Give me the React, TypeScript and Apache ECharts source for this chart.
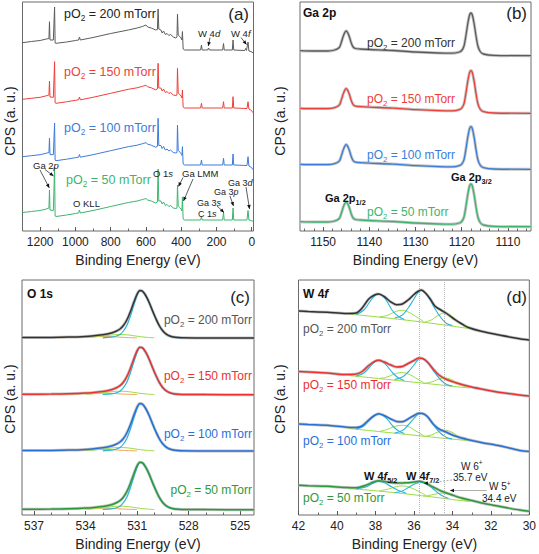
import React, { useEffect, useRef } from "react";
import * as echarts from "echarts";

const FONT = '"Liberation Sans", Arial, Helvetica, sans-serif';

const pressures = ["200", "150", "100", "50"];

// ---------- Panel (a): survey ----------
const surveyTicks = [0, 200, 400, 600, 800, 1000, 1200];
const surveyMinorTicks = [100, 300, 500, 700, 900, 1100];
const survey200 = [
  [1300, 188.3], [1250, 189.5], [1200, 190.5], [1165, 192], [1150, 192.5], [1147, 209.3], [1144, 191], [1125, 191], [1121, 191],
  [1118, 224], [1115, 188], [1110, 187.7], [1050, 189], [1000, 190.5], [982, 191], [977, 194], [972, 191], [900, 193.5],
  [800, 197.5], [700, 201], [650, 203], [620, 204.5], [600, 206], [590, 204], [570, 203], [545, 201], [535, 201.5], [531, 222],
  [527, 202], [515, 201], [508, 198], [500, 200], [490, 196.5], [480, 197.5], [470, 195.5], [460, 196.5], [445, 194], [430, 193],
  [424, 194], [421, 217], [417, 196], [405, 194], [398, 192], [396, 191], [393, 199.5], [389, 182], [380, 181], [290, 181],
  [285, 186], [281, 181], [250, 181], [245, 183], [240, 181], [165, 181], [160, 187.5], [156, 181], [110, 181], [106, 191],
  [102, 181], [40, 180.5], [35, 182.5], [30, 180.5], [27, 180.5], [21, 189], [16, 180], [5, 179.5], [-10, 178],
];
const survey150 = [
  [1300, 131.7], [1250, 132.7], [1200, 133.7], [1165, 135.2], [1150, 136], [1147, 150], [1144, 134], [1125, 133.7], [1121, 133.7],
  [1118, 169.3], [1115, 128.2], [1110, 127.7], [1050, 129.2], [1000, 130.7], [982, 131.2], [977, 134], [972, 131.2], [900, 133.7],
  [800, 137.7], [700, 141.7], [650, 143.2], [620, 144.7], [600, 145.7], [590, 144.2], [570, 143.2], [545, 141.2], [535, 142],
  [531, 167.7], [527, 143], [515, 143], [508, 140], [500, 142], [490, 138.5], [480, 139.5], [470, 137.5], [460, 138.5], [445, 136],
  [430, 135.5], [424, 136], [421, 162.7], [417, 138], [405, 136], [398, 134], [396, 133], [393, 141], [389, 124], [380, 123],
  [290, 123], [285, 127.7], [281, 123], [165, 123], [160, 129.3], [156, 123], [110, 123], [106, 134.3], [102, 123], [27, 122.5],
  [21, 129.3], [16, 122], [5, 121], [-10, 118],
];
const survey100 = [
  [1300, 74.3], [1250, 75.3], [1200, 76.3], [1165, 77.8], [1150, 78.5], [1147, 92.7], [1144, 76.5], [1125, 76.3], [1121, 76.3],
  [1118, 108], [1115, 70.8], [1110, 70.3], [1050, 71.8], [1000, 73.3], [982, 73.8], [977, 76.5], [972, 73.8], [900, 76.3],
  [800, 80.3], [700, 84.3], [650, 85.8], [620, 87.3], [600, 88.3], [590, 86.8], [570, 85.8], [545, 83.8], [535, 84.6], [531, 112.7],
  [527, 85.5], [515, 85.5], [508, 82.5], [500, 84.5], [490, 81], [480, 82], [470, 80], [460, 81], [445, 78.5], [430, 78],
  [424, 78.5], [421, 106], [417, 80.5], [405, 78.5], [398, 76.5], [396, 75.5], [393, 84.3], [389, 67], [380, 66], [290, 66],
  [285, 71], [281, 66], [165, 66], [160, 72.7], [156, 66], [110, 66], [106, 77], [102, 66], [27, 65.5], [21, 74.3], [16, 65],
  [5, 64], [-10, 61],
];
const survey50 = [
  [1300, 18.5], [1250, 19.5], [1200, 20.5], [1165, 22], [1150, 23], [1147, 41], [1144, 21], [1125, 20.5], [1121, 20.5],
  [1118, 64], [1115, 15], [1110, 14.5], [1050, 16], [1000, 17.5], [982, 18], [977, 21], [972, 18], [900, 20.5], [800, 24.5],
  [700, 28.5], [650, 30], [620, 31.5], [600, 32.5], [590, 31], [570, 30], [545, 28], [535, 29], [531, 62], [527, 30], [515, 30],
  [508, 27], [500, 29], [490, 25.5], [480, 26.5], [470, 24.5], [460, 25.5], [445, 23], [430, 22.5], [424, 23], [421, 46],
  [417, 25], [405, 23], [398, 21], [396, 20], [393, 34], [389, 12], [380, 11], [290, 11], [285, 14.5], [281, 11], [165, 11],
  [160, 19], [156, 11], [110, 11], [106, 23], [102, 11], [27, 11], [21, 20.5], [16, 11], [5, 10.5], [-10, 9.5],
];

// ---------- Panel (b): Ga 2p ----------
const ga2pTicks = [1110, 1120, 1130, 1140, 1150];
const ga2pMinorTicks = [1106, 1108, 1112, 1114, 1116, 1118, 1122, 1124, 1126, 1128, 1132, 1134, 1136, 1138, 1142, 1144, 1146, 1148, 1152, 1154];
const ga2pProfile = [
  [1155, 9.3], [1152, 9], [1149, 9], [1147.5, 10], [1146.5, 12.5], [1146.1, 17], [1145.7, 23], [1145.3, 27.5], [1145.0, 29],
  [1144.7, 27.5], [1144.3, 23], [1143.9, 17], [1143.5, 13], [1143, 11.5], [1142, 11], [1140, 10.5], [1135, 9.5], [1130, 8],
  [1125, 7], [1122, 6.8], [1120.5, 8], [1120, 9.5], [1119.5, 14], [1119.1, 24], [1118.7, 36], [1118.3, 45], [1118.0, 47],
  [1117.7, 45], [1117.3, 36], [1116.9, 24], [1116.5, 14], [1116, 8.5], [1115.3, 6], [1113, 4.6], [1105, 4.3],
];
const ga2pOffsets = [171, 113.4, 57.4, 0];

// ---------- Panel (c): O 1s ----------
const o1sTicks = [525, 528, 531, 534, 537];
const o1sMinorTicks = [526, 527, 529, 530, 532, 533, 535, 536];
const o1sEnvelope = [
  [537.7, 0.5], [536, 0.6], [535, 0.9], [534, 1.6], [533.5, 2.3], [533, 3.2], [532.5, 5], [532.2, 7], [532, 9], [531.8, 12.5],
  [531.6, 18], [531.4, 26], [531.2, 35.5], [531.0, 44], [530.85, 47.5], [530.7, 47], [530.5, 42.5], [530.3, 35.5], [530.1, 27],
  [529.9, 19], [529.7, 12], [529.5, 7], [529.3, 3.8], [529.1, 2], [528.8, 0.8], [528.4, 0.3], [527, 0.1], [524.2, 0],
];
const o1sLattice = [
  [533, 0.2], [532.5, 0.8], [532.2, 2], [532, 3.5], [531.8, 7], [531.6, 12.5], [531.4, 21.5], [531.2, 32.5], [531.0, 42.5],
  [530.85, 47], [530.7, 46.8], [530.5, 42.3], [530.3, 35.3], [530.1, 26.8], [529.9, 18.8], [529.7, 11.8], [529.5, 6.8],
  [529.3, 3.6], [529.1, 1.8], [528.8, 0.6], [528.4, 0.2],
];
const o1sVacancy = [
  [534, 0.3], [533.5, 1], [533, 2], [532.5, 3], [532, 3.5], [531.6, 3.2], [531.2, 2.3], [530.8, 1.3], [530.4, 0.6], [530, 0.2],
];
const o1sHydroxyl = [
  [535.5, 0.2], [534.5, 0.8], [533.5, 1.4], [533, 1.5], [532.5, 1.3], [532, 0.8], [531.5, 0.4], [531, 0.1],
];
const o1sOffsets = [177, 120.3, 64, 5.3];

// ---------- Panel (d): W 4f ----------
const w4fTicks = [30, 32, 34, 36, 38, 40, 42];
const w4fMinorTicks = [31, 33, 35, 37, 39, 41];
const w4fRefLines = [35.7, 34.4];

const w4fEnv200 = [
  [42, 204], [41.5, 203.5], [40.5, 202.7], [39.5, 201.5], [39.0, 202], [38.69, 207], [38.35, 216], [38.05, 220], [37.83, 221],
  [37.55, 218.5], [37.2, 213], [36.9, 210.3], [36.6, 211], [36.3, 215], [36.0, 220.5], [35.8, 223.5], [35.62, 225], [35.4, 222],
  [35.15, 216], [34.9, 208.7], [34.6, 205], [34.3, 201.5], [33.86, 195.3], [33.5, 191], [33.17, 187.5], [32.5, 183.7],
  [31.5, 179.7], [30.5, 176.3], [30, 175],
];
const w4fBg200 = [[39.4, 201], [38.6, 199.5], [37.6, 197.5], [36.6, 195.3], [35.6, 193], [34.6, 190.5], [33.8, 188.3], [33.1, 186.3]];
const w4fA200 = [[39.0, 200.5], [38.6, 205], [38.3, 213], [38.05, 219], [37.83, 221], [37.6, 219], [37.35, 212], [37.1, 204], [36.8, 198.5], [36.5, 195.5]];
const w4fB200 = [[37.0, 197], [36.6, 200], [36.3, 207], [36.0, 216], [35.8, 222], [35.62, 224.5], [35.4, 222], [35.15, 215], [34.9, 206], [34.6, 197.5], [34.3, 191.5], [34.0, 189.5]];
const w4fC200 = [[37.8, 198], [37.4, 199.5], [37.0, 203], [36.65, 204.7], [36.3, 203], [35.9, 198.5], [35.5, 193.5]];
const w4fD200 = [[35.5, 192.5], [35.1, 195], [34.75, 199.5], [34.4, 202], [34.05, 199.5], [33.7, 193], [33.3, 187.5]];

const w4fEnv150 = [
  [42, 143.5], [41.5, 143], [40.5, 142], [39.5, 140.5], [39.0, 141], [38.69, 143.5], [38.35, 149.5], [38.05, 153.5], [37.83, 154.7],
  [37.55, 153], [37.2, 150], [36.9, 148], [36.6, 148.5], [36.3, 151.5], [36.0, 154.5], [35.75, 157], [35.55, 156.5], [35.3, 153],
  [35.0, 146], [34.7, 140], [34.3, 135.5], [33.86, 132.5], [33.17, 128.7], [32.5, 126], [31.5, 122.5], [30.5, 120], [30, 119],
];
const w4fBg150 = [[39.4, 139.5], [38.6, 138], [37.6, 136], [36.6, 134], [35.6, 132], [34.6, 130], [33.8, 128.3], [33.1, 127]];
const w4fA150 = [[39.0, 139], [38.6, 142], [38.3, 148], [38.05, 153], [37.83, 154.5], [37.6, 153], [37.35, 148], [37.1, 142], [36.8, 137], [36.5, 134.5]];
const w4fB150 = [[37.0, 135.5], [36.6, 138], [36.3, 143], [36.0, 150], [35.8, 155], [35.62, 156.5], [35.4, 155], [35.15, 149], [34.9, 142], [34.6, 135], [34.3, 130.5], [34.0, 129]];
const w4fC150 = [[37.8, 136.5], [37.4, 138], [37.0, 141], [36.65, 142.5], [36.3, 141], [35.9, 137], [35.5, 132.5]];
const w4fD150 = [[35.5, 131.5], [35.1, 133], [34.75, 135.5], [34.4, 137], [34.05, 135.5], [33.7, 131.5], [33.3, 128]];

const w4fEnv100 = [
  [42, 91], [41.5, 90.5], [40.5, 89.7], [39.5, 87.8], [39.0, 87.5], [38.7, 89], [38.35, 95], [38.05, 99.5], [37.83, 101.3],
  [37.55, 99.5], [37.2, 96], [36.9, 93.5], [36.6, 93.2], [36.3, 96], [36.0, 99.5], [35.75, 101.8], [35.55, 101.5], [35.3, 98.5],
  [35.0, 91], [34.7, 86], [34.4, 83.5], [33.86, 79], [33.17, 75.3], [32.5, 72.5], [31.5, 69], [30.5, 64.5], [30, 63.5],
];
const w4fBg100 = [[39.4, 86.5], [38.6, 85], [37.6, 83], [36.6, 81], [35.6, 79], [34.6, 77], [33.8, 75.5], [33.1, 74.3]];
const w4fA100 = [[39.0, 86], [38.6, 89], [38.3, 95], [38.05, 99.5], [37.83, 101], [37.6, 99.5], [37.35, 95], [37.1, 89], [36.8, 84], [36.5, 81.5]];
const w4fB100 = [[37.0, 82], [36.6, 84.5], [36.3, 90], [36.0, 96.5], [35.8, 100.5], [35.62, 101.5], [35.4, 100], [35.15, 95], [34.9, 88], [34.6, 81.5], [34.3, 77.5], [34.0, 76]];
const w4fC100 = [[37.8, 83.5], [37.4, 85.5], [37.0, 88.5], [36.65, 89.7], [36.3, 88.5], [35.9, 84], [35.5, 79.5]];
const w4fD100 = [[35.5, 78.5], [35.1, 80], [34.75, 83], [34.4, 84.7], [34.05, 83], [33.7, 79], [33.3, 75]];

const w4fEnv50 = [
  [42, 29.7], [41.5, 29.3], [40.5, 28.7], [39.5, 27.5], [39.0, 27.3], [38.5, 29.7], [38.1, 33], [37.83, 34.3], [37.5, 33.5],
  [37.2, 32.5], [36.8, 32], [36.4, 32.2], [36.0, 33], [35.7, 33.7], [35.4, 32], [35.0, 28], [34.55, 23.7], [34.0, 20],
  [33.52, 17], [33.0, 14.5], [32.48, 12], [31.8, 9.5], [31.1, 7], [30.5, 5], [30, 3.7],
];
const w4fBg50 = [[39.4, 26.5], [38.6, 25.3], [37.6, 23.5], [36.6, 21.5], [35.6, 19.3], [34.6, 17], [33.8, 15], [33.1, 13.5]];
const w4fA50 = [[39.0, 26], [38.5, 28], [38.2, 31], [37.83, 33.5], [37.5, 32], [37.2, 28.5], [36.8, 24.5], [36.4, 21.8]];
const w4fB50 = [[37.0, 22.5], [36.6, 24], [36.2, 28.5], [35.9, 31.5], [35.62, 32.5], [35.35, 31], [35.0, 26], [34.6, 20], [34.2, 16.5]];
const w4fC50 = [[37.8, 24.3], [37.3, 26], [36.9, 28.5], [36.6, 29], [36.2, 27.5], [35.8, 24], [35.4, 20]];
const w4fD50 = [[35.5, 19], [35.1, 20], [34.75, 21.5], [34.4, 22], [34.0, 20], [33.6, 16.5], [33.2, 14]];

// ---------- styling ----------
const curveColorsAB = ["#5c5c5c", "#ee4039", "#3b7dd8", "#3db56f"];
const curveColorsCD = ["#333333", "#ee3030", "#2a6fd8", "#2b9a3a"];
const labelColorsA = ["#222222", "#ee4039", "#3b7dd8", "#3db56f"];
const labelColorsB = ["#333333", "#ee4039", "#3b7dd8", "#3db56f"];
const labelColorsCD = ["#555555", "#ee3030", "#2a6fd8", "#2b9a3a"];
const DATA_GREY = "#c4c4c4";
const CYAN = "#2bb4d8";
const LIME = "#9bdc45";
const ORANGE = "#f2a35a";

const rects = [
  { left: 22.5, top: 2, width: 231, height: 229 },
  { left: 300, top: 2, width: 231, height: 229 },
  { left: 22, top: 280, width: 232, height: 235 },
  { left: 298.5, top: 280, width: 232, height: 235 },
];
const xRanges = [[-10, 1300], [1105, 1155], [524.2, 537.7], [30, 42]];
const yMax = [229, 229, 235, 235];
const majorTicks = [surveyTicks, ga2pTicks, o1sTicks, w4fTicks];
const minorTicks = [surveyMinorTicks, ga2pMinorTicks, o1sMinorTicks, w4fMinorTicks];

function shift(arr: number[][], off: number) {
  return arr.map(([x, y]) => [x, y + off]);
}

function line(panel: number, data: number[][], color: string, width: number, z: number, smooth: number | boolean = false): any {
  return {
    type: "line",
    xAxisIndex: panel,
    yAxisIndex: panel,
    data,
    symbol: "none",
    showSymbol: false,
    smooth,
    silent: true,
    z,
    lineStyle: { color, width },
    emphasis: { disabled: true },
  };
}

function richStyles(size: number, color: string, bold: boolean) {
  const w = bold ? "bold" : "normal";
  const sub = Math.round(size * 0.66 * 10) / 10;
  return {
    n: { fontSize: size, fontFamily: FONT, fill: color, fontWeight: w, lineHeight: size + 4 },
    i: { fontSize: size, fontFamily: FONT, fill: color, fontWeight: w, fontStyle: "italic", lineHeight: size + 4 },
    s: { fontSize: sub, fontFamily: FONT, fill: color, fontWeight: w, verticalAlign: "bottom", lineHeight: sub },
    u: { fontSize: sub, fontFamily: FONT, fill: color, fontWeight: w, verticalAlign: "top", lineHeight: sub },
  };
}

export default function App() {
  const ref = useRef<HTMLDivElement>(null);

  useEffect(() => {
    document.body.style.margin = "0";
    if (!ref.current) return;
    const chart = echarts.init(ref.current, undefined, { renderer: "svg" });

    const grids: any[] = [];
    const xAxes: any[] = [];
    const yAxes: any[] = [];
    for (let p = 0; p < 4; p++) {
      grids.push({ ...rects[p], show: true, borderColor: "#6a6a6a", borderWidth: 1, backgroundColor: "transparent", containLabel: false });
    }
    for (let p = 0; p < 4; p++) {
      grids.push({ ...rects[p], show: false, containLabel: false });
    }
    for (let p = 0; p < 4; p++) {
      xAxes.push({
        type: "value",
        gridIndex: p,
        min: xRanges[p][0],
        max: xRanges[p][1],
        inverse: true,
        position: "bottom",
        axisLine: { show: false },
        splitLine: { show: false },
        axisTick: { show: true, inside: true, length: 4, lineStyle: { color: "#555", width: 1 }, customValues: majorTicks[p] },
        axisLabel: {
          show: true,
          customValues: majorTicks[p],
          fontSize: 12,
          color: "#222",
          fontFamily: FONT,
          margin: 5,
          formatter: (v: number) => String(v),
        },
      });
    }
    for (let p = 0; p < 4; p++) {
      xAxes.push({
        type: "value",
        gridIndex: 4 + p,
        min: xRanges[p][0],
        max: xRanges[p][1],
        inverse: true,
        position: "bottom",
        axisLine: { show: false },
        splitLine: { show: false },
        axisTick: { show: true, inside: true, length: 2.5, lineStyle: { color: "#666", width: 1 }, customValues: minorTicks[p] },
        axisLabel: { show: false },
      });
    }
    for (let p = 0; p < 8; p++) {
      yAxes.push({ type: "value", gridIndex: p, min: 0, max: yMax[p % 4], show: false });
    }

    const series: any[] = [];
    // (a)
    [survey200, survey150, survey100, survey50].forEach((d, k) => {
      series.push(line(0, d, curveColorsAB[k], 1, 3));
    });
    // (b)
    ga2pOffsets.forEach((off, k) => {
      const d = shift(ga2pProfile, off);
      series.push(line(1, d, DATA_GREY, 3, 2, 0.3));
      series.push(line(1, d, curveColorsAB[k], 1.3, 3, 0.3));
    });
    // (c)
    o1sOffsets.forEach((off, k) => {
      const env = shift(o1sEnvelope, off);
      series.push(line(2, env, DATA_GREY, 3, 2, 0.3));
      series.push(line(2, shift(o1sHydroxyl, off), ORANGE, 1, 3, 0.4));
      series.push(line(2, shift(o1sVacancy, off), LIME, 1, 3, 0.4));
      series.push(line(2, shift(o1sLattice, off), CYAN, 1.2, 4, 0.3));
      series.push(line(2, env, curveColorsCD[k], 1.5, 5, 0.3));
    });
    // (d)
    const dSets = [
      [w4fEnv200, w4fBg200, w4fA200, w4fB200, w4fC200, w4fD200],
      [w4fEnv150, w4fBg150, w4fA150, w4fB150, w4fC150, w4fD150],
      [w4fEnv100, w4fBg100, w4fA100, w4fB100, w4fC100, w4fD100],
      [w4fEnv50, w4fBg50, w4fA50, w4fB50, w4fC50, w4fD50],
    ];
    dSets.forEach(([env, bg, a, b, c, d], k) => {
      const grey = line(3, env, DATA_GREY, 3, 2, 0.3);
      if (k === 0) {
        grey.markLine = {
          silent: true,
          symbol: "none",
          label: { show: false },
          lineStyle: { type: "dotted", color: "#b0b0b0", width: 1 },
          data: w4fRefLines.map((v) => ({ xAxis: v })),
        };
      }
      series.push(grey);
      series.push(line(3, bg, LIME, 1, 3, 0.3));
      series.push(line(3, c, LIME, 1, 3, 0.4));
      series.push(line(3, d, LIME, 1, 3, 0.4));
      series.push(line(3, a, CYAN, 1.1, 4, 0.4));
      series.push(line(3, b, CYAN, 1.1, 4, 0.4));
      series.push(line(3, env, curveColorsCD[k], 1.5, 5, 0.3));
    });

    // ---------- annotations ----------
    const g: any[] = [];
    const T = (x: number, y: number, text: string, size: number, color: string, bold = false, align = "left", rotation = 0) => {
      g.push({
        type: "text",
        x,
        y,
        rotation,
        z: 100,
        silent: true,
        style: {
          text,
          align,
          verticalAlign: "middle",
          fontSize: size,
          fontFamily: FONT,
          fontWeight: bold ? "bold" : "normal",
          fill: color,
          rich: richStyles(size, color, bold),
        },
      });
    };
    const A = (x1: number, y1: number, x2: number, y2: number, lineColor = "#333", headColor = "#111", dash?: number[]) => {
      g.push({ type: "line", z: 100, silent: true, shape: { x1, y1, x2, y2 }, style: { stroke: lineColor, lineWidth: 0.8, lineDash: dash } });
      const ang = Math.atan2(y2 - y1, x2 - x1);
      const L = 4;
      const W = 1.8;
      const bx = x2 - L * Math.cos(ang);
      const by = y2 - L * Math.sin(ang);
      g.push({
        type: "polygon",
        z: 101,
        silent: true,
        shape: { points: [[x2, y2], [bx + W * Math.sin(ang), by - W * Math.cos(ang)], [bx - W * Math.sin(ang), by + W * Math.cos(ang)]] },
        style: { fill: headColor },
      });
    };
    const po2 = (value: string) => `{n|pO}{s|2}{n| = ${value} mTorr}`;

    // axis titles
    const xTitleY = [260, 260, 544, 544];
    rects.forEach((r, p) => {
      T(r.left + r.width / 2, xTitleY[p], "{n|Binding Energy (eV)}", 14, "#222", false, "center");
      T(p % 2 === 0 ? 10 : 280, p < 2 ? 121 : 399, "{n|CPS (a. u.)}", 14, "#222", false, "center", Math.PI / 2);
    });

    // (a)
    const aLabelY = [14, 72, 128, 180];
    pressures.forEach((v, k) => T(k === 3 ? 66 : 64, aLabelY[k], po2(v), 12.5, labelColorsA[k]));
    T(249, 14, "{n|(a)}", 17, "#222", false, "right");
    T(198, 33, "{n|W 4}{i|d}", 9.5, "#222");
    A(210, 37.5, 208.3, 46);
    T(231, 33, "{n|W 4}{i|f}", 9.5, "#222");
    A(241, 37.5, 246.5, 44.5);
    T(33, 165, "{n|Ga 2}{i|p}", 9.5, "#222");
    A(40, 170, 49.3, 188);
    A(45, 169.5, 53.5, 176);
    T(73, 203, "{n|O KLL}", 9.5, "#222");
    T(153, 173, "{n|O 1}{i|s}", 9.5, "#222");
    T(182, 173, "{n|Ga LMM}", 9.5, "#222");
    A(183, 177.5, 178.5, 186.5);
    A(193, 179, 183.5, 201);
    T(197, 203, "{n|Ga 3}{i|s}", 9, "#222");
    A(217, 206, 224, 212.5);
    T(198, 214, "{n|C 1}{i|s}", 9, "#222");
    T(214, 191.5, "{n|Ga 3}{i|p}", 9, "#222");
    A(230, 196, 233.5, 206);
    T(228, 182.5, "{n|Ga 3}{i|d}", 9, "#222");
    A(246, 187, 249.5, 209);

    // (b)
    const bLabelY = [43, 99, 155, 212];
    pressures.forEach((v, k) => T(367, bLabelY[k], po2(v), 12, labelColorsB[k]));
    T(303, 13, "{n|Ga 2p}", 12, "#111", true);
    T(527, 13, "{n|(b)}", 17, "#222", false, "right");
    T(325, 198, "{n|Ga 2p}{s|1/2}", 11, "#111", true);
    T(451, 177, "{n|Ga 2p}{s|3/2}", 11, "#111", true);

    // (c)
    const cLabelY = [320, 376, 434, 490];
    pressures.forEach((v, k) => T(252, cLabelY[k], po2(v), 12, labelColorsCD[k], false, "right"));
    T(27, 294, "{n|O 1s}", 12, "#111", true);
    T(250, 297, "{n|(c)}", 17, "#222", false, "right");

    // (d)
    const dLabelY = [329, 385, 441, 498];
    pressures.forEach((v, k) => T(303, dLabelY[k], po2(v), 12, labelColorsCD[k]));
    T(303, 294, "{n|W 4}{i|f}", 12, "#111", true);
    T(527, 297, "{n|(d)}", 17, "#222", false, "right");
    T(364, 476, "{n|W 4}{i|f}{s|5/2}", 11, "#111", true);
    T(406, 476, "{n|W 4}{i|f}{s|7/2}", 11, "#111", true);
    T(461, 466, "{n|W 6}{u|+}", 10, "#222");
    T(453, 477.5, "{n|35.7 eV}", 10, "#222");
    A(452, 480, 424, 483.5, "#999", "#111", [2, 1.5]);
    T(489, 486.5, "{n|W 5}{u|+}", 10, "#222");
    T(482, 498.5, "{n|34.4 eV}", 10, "#222");
    A(486.5, 490.5, 450, 490.5, "#999", "#111");

    chart.setOption({
      animation: false,
      backgroundColor: "#ffffff",
      grid: grids,
      xAxis: xAxes,
      yAxis: yAxes,
      series,
      graphic: g,
    });
    return () => chart.dispose();
  }, []);

  return <div ref={ref} style={{ width: 539, height: 554 }} />;
}
